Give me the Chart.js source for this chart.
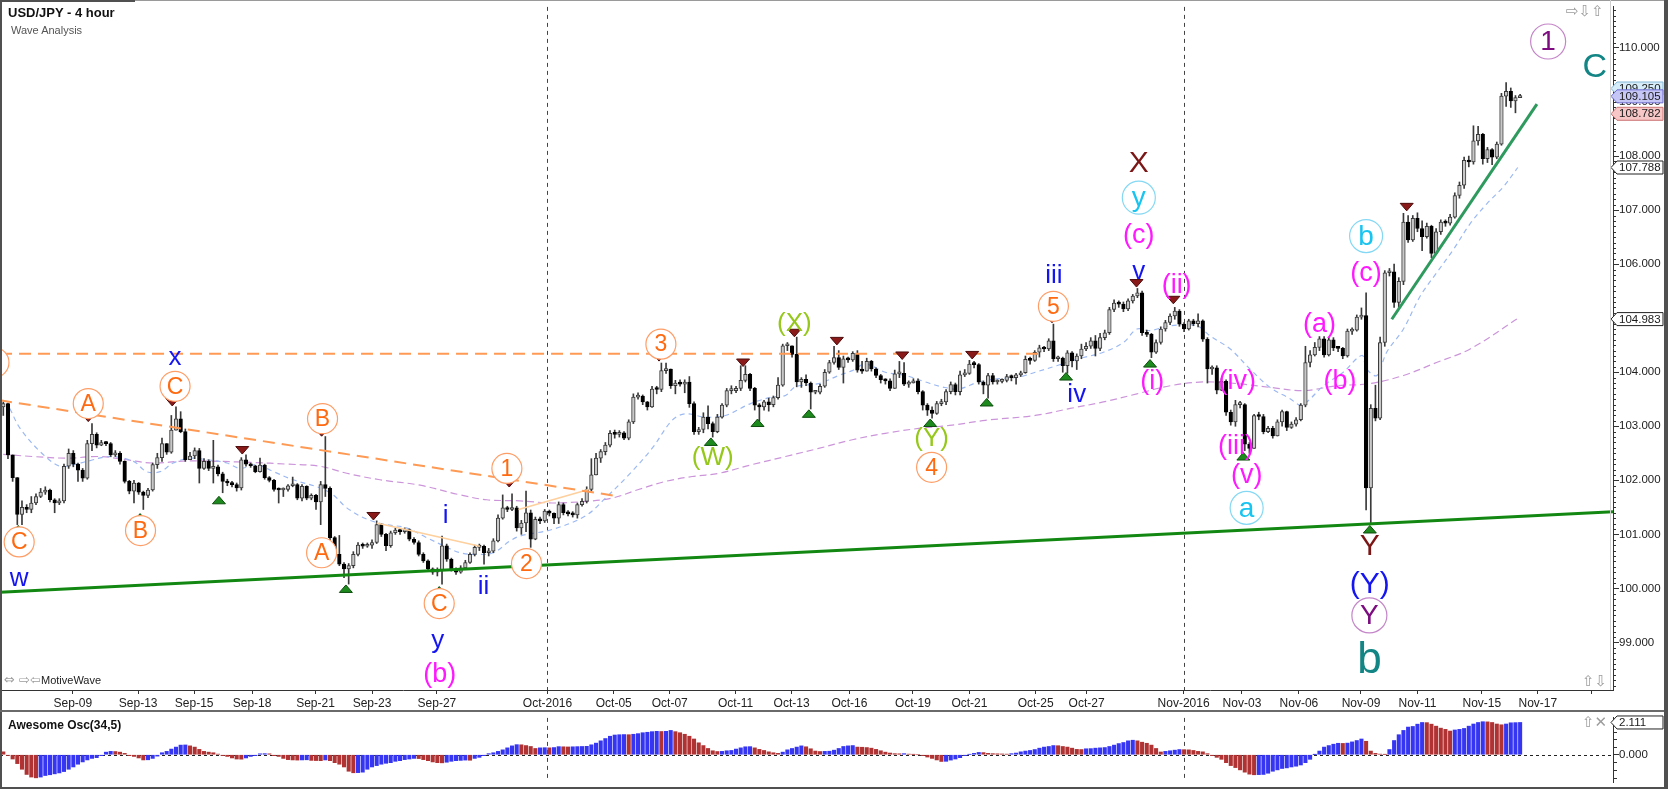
<!DOCTYPE html>
<html lang="en">
  <head>
    <meta charset="utf-8" />
    <title>USD/JPY - 4 hour</title>
    <style>
      * {
        margin: 0;
        padding: 0;
      }
      body {
        width: 1668px;
        height: 789px;
        overflow: hidden;
        background: #fff;
        position: relative;
        font-family: "Liberation Sans", Arial, sans-serif;
      }
      .pricePanel {
        position: absolute;
        left: 0;
        top: 0;
        width: 1668px;
        height: 711px;
      }
      .oscPanel {
        position: absolute;
        left: 0;
        top: 711px;
        width: 1668px;
        height: 78px;
      }
      .frame {
        position: absolute;
        background: #505050;
      }
      .txt {
        position: absolute;
        white-space: nowrap;
        line-height: 14px;
      }
      .icons {
        color: #9c9c9c;
        font-family: "DejaVu Sans", sans-serif;
        font-size: 15px;
        line-height: 16px;
      }
    </style>
  </head>
  <body>
    <div class="pricePanel"><canvas id="priceChart"></canvas></div>
    <div class="oscPanel"><canvas id="oscChart"></canvas></div>

    <div class="frame" style="left:0;top:0;width:1668px;height:1px;background:#9a9a9a"></div>
    <div class="frame" style="left:0;top:0;width:135px;height:2px"></div>
    <div class="frame" style="left:0;top:0;width:2px;height:789px"></div>
    <div class="frame" style="left:1664px;top:0;width:4px;height:789px"></div>
    <div class="frame" style="left:0;top:787px;width:1668px;height:2px"></div>
    <div class="frame" style="left:0;top:710px;width:1664px;height:2px;background:#6a6a6a"></div>
    <div class="frame" style="left:1610px;top:0;width:1px;height:690px;background:#d0d0d0"></div>

    <div class="txt" style="left:8px;top:6px;font-weight:bold;font-size:13px;color:#111">USD/JPY - 4 hour</div>
    <div class="txt" style="left:11px;top:23px;font-size:11px;color:#555">Wave Analysis</div>
    <div class="txt icons" style="left:4px;top:672px;font-size:13px">⇔ ⇨⇦</div>
    <div class="txt" style="left:41px;top:673px;font-size:11px;color:#222">MotiveWave</div>
    <div class="txt" style="left:8px;top:718px;font-weight:bold;font-size:12px;color:#111">Awesome Osc(34,5)</div>
    <div class="txt icons" style="left:1566px;top:3px">⇨⇩⇧</div>
    <div class="txt icons" style="left:1582px;top:673px">⇧⇩</div>
    <div class="txt icons" style="left:1582px;top:714px">⇧✕</div>

    <script src="https://cdn.jsdelivr.net/npm/chart.js"></script>

    <script>
      // x axis: candle index, labels at day boundaries
      const tickIndex = [14.9, 28.9, 40.9, 53.3, 66.9, 79.0, 92.9, 116.6, 130.8, 142.8, 156.9, 168.9, 181.3,
        194.9, 207.0, 221.2, 232.1, 252.9, 265.4, 277.6, 290.9, 303.0, 316.8, 328.8, 340.3];
      const tickLabels = ["Sep-09", "Sep-13", "Sep-15", "Sep-18", "Sep-21", "Sep-23", "Sep-27", "Oct-2016",
        "Oct-05", "Oct-07", "Oct-11", "Oct-13", "Oct-16", "Oct-19", "Oct-21", "Oct-25", "Oct-27", "Nov-2016",
        "Nov-03", "Nov-06", "Nov-09", "Nov-11", "Nov-15", "Nov-17", ""];
      const priceTicks = [99, 100, 101, 102, 103, 104, 105, 106, 107, 108, 109, 110];

      // 4 hour candles, open = previous close
      const firstOpen = 103.36;
      const closes = [
        103.42, 102.47, 102.05, 101.37, 101.50, 101.46, 101.58, 101.70, 101.78, 101.82,
        101.64, 101.58, 101.62, 102.26, 102.50, 102.30, 102.19, 102.04, 102.68, 102.85,
        102.65, 102.70, 102.68, 102.47, 102.50, 102.35, 101.98, 101.80, 101.95, 101.78,
        101.72, 101.82, 102.29, 102.42, 102.68, 102.52, 102.93, 103.14, 102.90, 102.38,
        102.45, 102.55, 102.22, 102.35, 102.22, 102.25, 102.12, 101.98, 101.95, 101.92,
        101.86, 102.38, 102.30, 102.27, 102.16, 102.28, 102.05, 102.00, 101.83, 101.82,
        101.83, 101.90, 101.92, 101.67, 101.89, 101.67, 101.72, 101.60, 101.92, 101.85,
        100.94, 100.63, 100.45, 100.36, 100.42, 100.63, 100.80, 100.78, 100.80, 100.85,
        101.18, 101.00, 100.79, 101.03, 101.08, 101.05, 101.09, 100.91, 100.85, 100.63,
        100.51, 100.36, 100.30, 100.33, 100.79, 100.54, 100.36, 100.30, 100.38, 100.48,
        100.63, 100.76, 100.78, 100.66, 100.69, 100.88, 101.30, 101.49, 101.46, 101.49,
        101.12, 101.21, 101.40, 100.91, 101.28, 101.25, 101.43, 101.39, 101.30, 101.55,
        101.40, 101.38, 101.36, 101.55, 101.61, 101.83, 102.10, 102.41, 102.53, 102.65,
        102.87, 102.85, 102.88, 102.78, 103.08, 103.54, 103.56, 103.45, 103.36, 103.69,
        103.68, 104.03, 104.06, 103.75, 103.80, 103.78, 103.82, 103.42, 102.90, 102.94,
        103.17, 103.05, 102.90, 103.17, 103.39, 103.66, 103.66, 103.70, 103.85, 103.96,
        103.70, 103.39, 103.36, 103.45, 103.40, 103.53, 103.76, 104.49, 104.49, 104.33,
        103.82, 103.87, 103.80, 103.63, 103.63, 103.74, 104.00, 104.18, 104.27, 104.09,
        104.25, 104.23, 104.35, 104.04, 104.02, 104.20, 104.06, 103.94, 103.86, 103.84,
        103.70, 103.97, 103.98, 103.78, 103.80, 103.84, 103.64, 103.39, 103.30, 103.24,
        103.42, 103.45, 103.64, 103.77, 103.64, 103.95, 103.98, 104.15, 104.14, 103.82,
        103.76, 103.94, 103.82, 103.83, 103.85, 103.92, 103.90, 103.95, 103.99, 104.24,
        104.22, 104.37, 104.45, 104.43, 104.58, 104.25, 104.26, 104.12, 104.36, 104.21,
        104.30, 104.43, 104.48, 104.58, 104.44, 104.64, 104.73, 105.16, 105.28, 105.26,
        105.17, 105.32, 105.41, 105.47, 104.73, 104.70, 104.37, 104.55, 104.80, 104.92,
        105.04, 105.13, 104.89, 104.80, 104.95, 104.90, 104.95, 104.61, 104.06, 104.08,
        103.67, 103.83, 103.26, 103.08, 103.40, 103.40, 102.67, 102.59, 103.20, 103.18,
        102.90, 102.96, 102.82, 103.08, 103.27, 102.98, 103.04, 103.12, 103.39, 104.18,
        104.32, 104.46, 104.62, 104.32, 104.60, 104.45, 104.44, 104.30, 104.76, 104.78,
        105.02, 105.05, 101.86, 103.33, 103.15, 104.55, 105.84, 105.86, 105.29, 105.68,
        106.78, 106.45, 106.85, 106.66, 106.51, 106.70, 106.20, 106.60, 106.78, 106.76,
        106.87, 107.27, 107.46, 107.92, 107.89, 108.28, 108.40, 107.95, 108.12, 107.98,
        108.22, 109.11, 109.20, 109.02, 109.08, 109.11,
      ];
      const highs = [
        103.45, 103.43, 102.35, 102.05, 101.62, 101.55, 101.70, 101.75, 101.85, 101.88,
        101.84, 101.66, 101.66, 102.30, 102.58, 102.55, 102.32, 102.22, 102.74, 103.05,
        102.88, 102.74, 102.72, 102.70, 102.55, 102.53, 102.36, 102.00, 102.00, 101.96,
        101.80, 101.85, 102.32, 102.50, 102.78, 102.68, 103.20, 103.36, 103.27, 102.95,
        102.52, 102.60, 102.59, 102.40, 102.38, 102.74, 102.28, 102.15, 102.02, 101.98,
        101.95, 102.42, 102.47, 102.32, 102.28, 102.41, 102.30, 102.07, 102.02, 101.86,
        101.86, 101.92, 102.06, 101.94, 101.92, 101.90, 101.75, 101.74, 101.98, 102.81,
        101.88, 100.96, 100.98, 100.48, 100.46, 100.68, 100.85, 100.84, 100.84, 100.90,
        101.25, 101.20, 101.02, 101.06, 101.12, 101.10, 101.12, 101.10, 100.94, 100.88,
        100.66, 100.53, 100.38, 100.38, 100.97, 100.82, 100.56, 100.38, 100.42, 100.52,
        100.66, 100.80, 100.82, 100.80, 100.74, 100.92, 101.36, 101.73, 101.52, 101.75,
        101.52, 101.26, 101.80, 101.45, 101.32, 101.32, 101.46, 101.45, 101.40, 101.60,
        101.58, 101.44, 101.42, 101.58, 101.66, 101.88, 102.40, 102.50, 102.57, 102.70,
        102.92, 102.93, 102.92, 102.90, 103.12, 103.60, 103.62, 103.58, 103.46, 103.74,
        103.74, 104.17, 104.17, 104.06, 103.85, 103.86, 103.86, 103.92, 103.45, 102.98,
        103.25, 103.38, 103.08, 103.22, 103.42, 103.70, 103.75, 103.74, 104.12, 104.12,
        103.98, 103.72, 103.42, 103.48, 103.52, 103.56, 103.90, 104.52, 104.55, 104.45,
        104.65, 103.90, 103.95, 103.82, 103.66, 103.78, 104.05, 104.22, 104.48, 104.40,
        104.30, 104.28, 104.38, 104.40, 104.20, 104.26, 104.22, 104.08, 103.96, 103.88,
        103.88, 104.04, 104.20, 104.18, 103.84, 103.88, 103.88, 103.66, 103.42, 103.36,
        103.46, 103.50, 103.68, 103.82, 103.80, 104.02, 104.05, 104.22, 104.20, 104.16,
        103.84, 103.98, 103.98, 103.86, 103.88, 103.96, 103.95, 103.98, 104.02, 104.30,
        104.28, 104.40, 104.50, 104.48, 104.62, 104.89, 104.30, 104.28, 104.40, 104.38,
        104.34, 104.52, 104.55, 104.64, 104.68, 104.72, 104.78, 105.20, 105.34, 105.32,
        105.30, 105.36, 105.44, 105.55, 105.50, 104.78, 104.72, 104.60, 104.84, 104.96,
        105.08, 105.20, 105.16, 104.92, 104.98, 104.98, 105.08, 104.97, 104.64, 104.12,
        104.12, 103.88, 103.86, 103.30, 103.48, 103.46, 103.42, 102.70, 103.22, 103.26,
        103.22, 103.00, 103.00, 103.12, 103.30, 103.28, 103.08, 103.16, 103.42, 104.48,
        104.40, 104.55, 104.66, 104.66, 104.65, 104.64, 104.48, 104.46, 104.80, 104.82,
        105.06, 105.19, 105.47, 103.40, 103.76, 104.65, 105.88, 105.92, 106.00, 105.75,
        106.94, 106.90, 106.90, 106.95, 106.80, 106.76, 106.72, 106.66, 106.82, 106.82,
        106.92, 107.32, 107.52, 107.98, 108.00, 108.56, 108.55, 108.42, 108.16, 108.14,
        108.26, 109.16, 109.36, 109.26, 109.12, 109.14,
      ];
      const lows = [
        103.20, 102.40, 101.98, 101.18, 101.18, 101.40, 101.40, 101.55, 101.68, 101.74,
        101.60, 101.40, 101.55, 101.58, 102.22, 102.25, 101.98, 101.98, 102.02, 102.55,
        102.60, 102.64, 102.64, 102.44, 102.44, 102.30, 101.95, 101.75, 101.58, 101.74,
        101.46, 101.68, 101.80, 102.22, 102.35, 102.48, 102.50, 102.95, 102.88, 102.35,
        102.38, 102.40, 101.95, 102.20, 102.18, 101.95, 102.08, 101.77, 101.90, 101.88,
        101.80, 101.82, 102.26, 102.24, 102.14, 102.15, 102.02, 101.97, 101.80, 101.58,
        101.70, 101.80, 101.88, 101.64, 101.62, 101.64, 101.64, 101.46, 101.18, 101.70,
        100.90, 100.60, 100.42, 100.20, 100.08, 100.38, 100.60, 100.74, 100.76, 100.74,
        100.83, 100.96, 100.70, 100.76, 101.00, 101.00, 101.02, 100.88, 100.82, 100.60,
        100.48, 100.33, 100.26, 100.23, 100.08, 100.50, 100.32, 100.26, 100.28, 100.36,
        100.46, 100.60, 100.70, 100.45, 100.60, 100.66, 100.86, 101.28, 101.42, 101.44,
        101.06, 101.00, 101.05, 100.76, 100.90, 101.20, 101.22, 101.34, 101.20, 101.20,
        101.36, 101.34, 101.32, 101.30, 101.52, 101.58, 101.80, 102.10, 102.33, 102.47,
        102.62, 102.78, 102.80, 102.75, 102.75, 103.05, 103.50, 103.40, 103.30, 103.35,
        103.60, 103.64, 103.98, 103.70, 103.60, 103.74, 103.62, 103.35, 102.85, 102.85,
        102.88, 102.95, 102.80, 102.88, 103.15, 103.36, 103.60, 103.62, 103.66, 103.82,
        103.66, 103.30, 103.10, 103.30, 103.28, 103.36, 103.50, 103.74, 104.40, 104.28,
        103.73, 103.72, 103.75, 103.32, 103.60, 103.60, 103.72, 103.98, 104.15, 104.05,
        103.80, 104.18, 104.20, 104.00, 103.98, 104.15, 104.02, 103.90, 103.80, 103.78,
        103.66, 103.85, 103.90, 103.75, 103.72, 103.80, 103.60, 103.30, 103.20, 103.15,
        103.22, 103.38, 103.40, 103.60, 103.58, 103.58, 103.92, 103.96, 104.08, 103.78,
        103.60, 103.52, 103.78, 103.78, 103.80, 103.82, 103.84, 103.78, 103.92, 103.98,
        104.15, 104.20, 104.28, 104.38, 104.40, 104.20, 104.20, 104.00, 103.98, 104.10,
        104.05, 104.25, 104.40, 104.44, 104.30, 104.40, 104.60, 104.70, 105.12, 105.20,
        105.12, 105.14, 105.28, 105.38, 104.68, 104.66, 104.27, 104.35, 104.52, 104.76,
        104.88, 104.98, 104.85, 104.75, 104.78, 104.86, 104.84, 104.57, 103.80, 103.96,
        103.60, 103.66, 103.20, 103.02, 103.00, 103.34, 102.55, 102.50, 102.62, 103.12,
        102.86, 102.88, 102.78, 102.86, 103.00, 102.92, 102.96, 103.00, 103.10, 103.36,
        104.10, 104.30, 104.40, 104.28, 104.30, 104.40, 104.38, 104.25, 104.28, 104.70,
        104.76, 104.98, 101.45, 101.19, 103.10, 103.12, 104.48, 105.78, 105.20, 105.20,
        105.62, 106.40, 106.42, 106.60, 106.25, 106.48, 106.12, 106.18, 106.55, 106.70,
        106.72, 106.85, 107.22, 107.40, 107.80, 107.85, 108.20, 107.85, 107.88, 107.84,
        107.95, 108.20, 108.92, 108.90, 108.80, 109.09,
      ];

      // Awesome Oscillator (34,5), one value per candle
      const aoValues = [
        0.19, -0.05, -0.28, -0.58, -0.95, -1.29, -1.46, -1.51, -1.46, -1.36,
        -1.31, -1.25, -1.19, -1.10, -0.95, -0.80, -0.62, -0.47, -0.34, -0.24,
        -0.19, -0.06, 0.17, 0.22, 0.21, 0.17, 0.09, -0.06, -0.11, -0.21,
        -0.34, -0.33, -0.24, -0.09, 0.13, 0.22, 0.37, 0.50, 0.63, 0.64,
        0.58, 0.50, 0.35, 0.22, 0.17, 0.13, 0.04, -0.06, -0.11, -0.21,
        -0.28, -0.29, -0.21, -0.11, -0.06, 0.06, 0.07, 0.06, -0.06, -0.11,
        -0.24, -0.32, -0.34, -0.35, -0.34, -0.33, -0.37, -0.38, -0.39, -0.34,
        -0.39, -0.52, -0.62, -0.80, -1.08, -1.18, -1.17, -1.14, -0.95, -0.80,
        -0.71, -0.62, -0.56, -0.52, -0.43, -0.39, -0.32, -0.28, -0.24, -0.25,
        -0.32, -0.39, -0.47, -0.52, -0.53, -0.49, -0.43, -0.39, -0.37, -0.35,
        -0.36, -0.24, -0.17, -0.06, 0.07, 0.13, 0.22, 0.32, 0.45, 0.58,
        0.66, 0.65, 0.60, 0.54, 0.41, 0.45, 0.46, 0.45, 0.47, 0.53,
        0.52, 0.51, 0.52, 0.53, 0.54, 0.55, 0.65, 0.76, 0.91, 1.06,
        1.21, 1.29, 1.31, 1.32, 1.31, 1.34, 1.38, 1.44, 1.47, 1.51,
        1.53, 1.52, 1.53, 1.59, 1.51, 1.44, 1.34, 1.21, 1.03, 0.78,
        0.60, 0.41, 0.26, 0.21, 0.22, 0.26, 0.28, 0.37, 0.45, 0.52,
        0.53, 0.45, 0.35, 0.28, 0.19, 0.13, 0.09, 0.17, 0.32, 0.41,
        0.50, 0.58, 0.52, 0.39, 0.24, 0.21, 0.22, 0.23, 0.30, 0.41,
        0.54, 0.58, 0.60, 0.50, 0.49, 0.47, 0.43, 0.35, 0.26, 0.17,
        0.11, 0.07, 0.06, 0.07, 0.04, 0.02, 0.00, -0.06, -0.15, -0.24,
        -0.34, -0.44, -0.43, -0.35, -0.28, -0.19, -0.06, 0.02, 0.09, 0.15,
        0.14, 0.09, 0.07, 0.06, 0.05, 0.04, 0.07, 0.11, 0.19, 0.24,
        0.28, 0.34, 0.43, 0.50, 0.54, 0.60, 0.59, 0.54, 0.50, 0.43,
        0.35, 0.34, 0.39, 0.40, 0.43, 0.45, 0.47, 0.54, 0.63, 0.73,
        0.80, 0.91, 0.95, 0.91, 0.82, 0.75, 0.63, 0.41, 0.18, 0.22,
        0.26, 0.30, 0.34, 0.33, 0.32, 0.28, 0.22, 0.19, 0.07, -0.06,
        -0.17, -0.30, -0.52, -0.71, -0.84, -0.99, -1.14, -1.27, -1.31, -1.30,
        -1.29, -1.21, -1.08, -0.99, -0.90, -0.86, -0.80, -0.75, -0.67, -0.52,
        -0.30, 0.01, 0.24, 0.50, 0.60, 0.69, 0.75, 0.74, 0.76, 0.84,
        0.93, 1.03, 0.88, 0.24, 0.09, 0.04, 0.02, 0.34, 0.93, 1.31,
        1.59, 1.81, 1.85, 2.00, 2.11, 2.10, 2.00, 1.87, 1.74, 1.66,
        1.55, 1.62, 1.66, 1.72, 1.87, 2.01, 2.11, 2.16, 2.15, 2.11,
        2.01, 1.96, 2.01, 2.09, 2.10, 2.111,
      ];

      // moving averages (candle index, price)
      const fastMaG = [1.4, 3.6, 7.9, 12.1, 15, 17.9, 22.9, 27.9, 30.7, 33.6, 36.4, 40, 43.6, 47.9, 50.7, 54.3,
        57.9, 62.1, 67.9, 70.7, 73.6, 77.9, 82.1, 86.4, 90.7, 94.3, 97.9, 101.4, 105, 108.6, 110.7, 117.6, 124.7,
        129, 134, 139, 143.3, 146.1, 150.4, 154.7, 160.1, 164.7, 167.6, 169.7, 174.7, 179, 181.9, 184.7, 189,
        193.3, 197.6, 201.1, 204.7, 209, 213.3, 217.6, 221.1, 225.7, 230, 235.7, 240, 242.9, 245.7, 250, 255.7,
        258.6, 262.9, 267.1, 271.4, 275.7, 277.9, 279.3, 282.9, 287.1, 291.1, 292.1, 294.3, 296.4, 300, 303.6,
        307.1, 310.7, 314.3, 317.9, 321.4, 324.5];
      const fastMaP = [103.33, 102.96, 102.53, 102.26, 102.29, 102.35, 102.44, 102.35, 102.16, 102.16, 102.32,
        102.41, 102.38, 102.32, 102.22, 102.29, 102.16, 102.01, 101.86, 101.73, 101.49, 101.28, 101.18, 101.12,
        100.94, 100.79, 100.66, 100.63, 100.66, 100.88, 100.97, 101.09, 101.34, 101.67, 102.10, 102.59, 103.11,
        103.23, 103.17, 103.20, 103.42, 103.54, 103.57, 103.73, 103.79, 103.94, 104.03, 104.15, 104.00, 103.94,
        103.82, 103.73, 103.69, 103.82, 103.88, 103.91, 104.00, 104.12, 104.24, 104.37, 104.55, 104.80, 104.77,
        104.86, 104.86, 104.67, 104.43, 104.06, 103.72, 103.51, 103.39, 103.45, 103.75, 104.00, 104.31, 104.06,
        103.94, 104.37, 104.80, 105.41, 105.84, 106.27, 106.75, 107.12, 107.43, 107.788];
      const slowMaG = [0, 6.4, 13.6, 20.7, 26.4, 32.1, 39.3, 46.4, 53.6, 60.7, 67.9, 73.6, 80.7, 89.3, 97.9,
        103.6, 110.7, 117.6, 124.7, 130.4, 136.1, 141.9, 147.6, 153.3, 160.4, 167.6, 174.7, 181.9, 189, 196.1,
        203.3, 210.4, 221.1, 228.6, 235.7, 242.9, 250, 257.1, 264.3, 271.4, 278.6, 285.7, 292.9, 300, 307.1,
        314.3, 324.3];
      const slowMaP = [102.48, 102.44, 102.41, 102.44, 102.38, 102.32, 102.36, 102.35, 102.33, 102.30, 102.26,
        102.13, 102.01, 101.91, 101.73, 101.64, 101.62, 101.58, 101.61, 101.67, 101.83, 101.98, 102.07, 102.13,
        102.29, 102.44, 102.59, 102.75, 102.87, 102.96, 103.02, 103.11, 103.20, 103.33, 103.45, 103.60, 103.75,
        103.82, 103.79, 103.72, 103.66, 103.75, 103.79, 103.94, 104.18, 104.43, 104.983];

      // drawn trend lines (candle index, price)
      const supportG = [-0.7, 344.9];
      const supportP = [99.93, 101.42];
      const channelG = [297.5, 328.6];
      const channelP = [104.98, 108.96];
      const levelG = [-0.7, 223];
      const levelP = [104.34, 104.34];
      const fallG = [-0.7, 132.1];
      const fallP = [103.48, 101.7];
      const thinAG = [80, 102.1];
      const thinAP = [101.21, 100.78];
      const thinBG = [110.4, 125.4];
      const thinBP = [101.46, 101.83];

      // swing markers
      const markG = [3.2, 18.2, 29.3, 36.2, 46.2, 51.2, 68.2, 73.4, 79.3, 93.4, 108.4, 112.5, 140.5, 151.6, 158.5,
        161.6, 169.5, 172.6, 178.6, 192.6, 198.6, 207.6, 210.7, 224.7, 227.7, 242.8, 245.7, 250.7, 265.7, 292.8,
        300.7];
      const markP = [101.09, 103.16, 101.31, 103.45, 101.63, 102.56, 102.89, 99.99, 101.34, 99.96, 101.95, 100.63,
        104.28, 102.71, 104.18, 103.06, 104.73, 103.23, 104.58, 104.31, 103.06, 104.32, 103.44, 104.99, 103.92,
        105.65, 104.16, 105.34, 102.44, 101.09, 107.06];
      const markUp = [1, 0, 1, 0, 1, 0, 0, 1, 0, 1, 0, 1, 0, 1, 0, 1, 0, 1, 0, 0, 1, 0, 1, 0, 1, 0, 1, 0, 1, 1, 0];

      // wave labels
      const waveText = ["C", "w", "A", "x", "C", "B", "B", "A", "1", "i", "ii", "C", "y", "(b)", "2", "", "3",
        "(X)", "(W)", "(Y)", "4", "5", "iii", "iv", "X", "y", "(c)", "v", "(ii)", "(i)", "(iv)", "(iii)", "(v)",
        "a", "(a)", "(b)", "b", "(c)", "Y", "(Y)", "Y", "b", "1", "C"];
      const waveG = [3.4, 3.4, 18.2, 36.8, 36.8, 29.4, 68.4, 68.2, 107.9, 94.8, 102.9, 93.4, 93.1, 93.5, 112.1,
        -2, 140.9, 169.5, 152, 198.9, 198.9, 225, 225.1, 230, 243.3, 243.3, 243.3, 243.3, 251.4, 246.2, 264.4,
        264.1, 266.4, 266.4, 282, 286.4, 292, 292, 292.8, 292.8, 292.7, 292.7, 331, 341];
      const waveP = [100.86, 100.2, 103.42, 104.28, 103.74, 101.07, 103.14, 100.66, 102.22, 101.37, 100.05,
        99.72, 99.05, 98.43, 100.46, 104.18, 104.52, 104.92, 102.44, 102.78, 102.24, 105.22, 105.81, 103.6, 107.87,
        107.23, 106.55, 105.87, 105.62, 103.85, 103.85, 102.65, 102.1, 101.49, 104.91, 103.85, 106.52, 105.84,
        100.79, 100.09, 99.5, 98.67, 110.12, 109.66];
      const waveKind = ["orange", "blue", "orange", "blue", "orange", "orange", "orange", "orange", "orange",
        "blue", "blue", "orange", "blue", "magenta", "orange", "orange", "orange", "lime", "lime", "lime",
        "orange", "orange", "blue", "blue", "darkred", "cyan", "magenta", "blue", "magenta", "magenta", "magenta",
        "magenta", "magenta", "cyan", "magenta", "magenta", "cyan", "magenta", "darkred", "navy", "purple",
        "teal", "purple", "tealC"];

      // value tags on the price axis
      const tagValues = [109.25, 108.782, 109.105, 107.788, 104.983];
      const tagFill = ["#d6ecf8", "#f7c6c6", "#c6c6f6", "#ffffff", "#ffffff"];
      const tagEdge = ["#86b8d6", "#cc7474", "#6c6cd0", "#222222", "#222222"];

      const xMin = -0.71;
      const xMax = 344.9;
      const fontFamily = '"Liberation Sans", Arial, sans-serif';

      const labelStyles = {
        orange: { color: "#ff6a10", size: 23, ring: "#ff9d66", r: 15 },
        blue: { color: "#1515f2", size: 26 },
        magenta: { color: "#ff19ff", size: 27 },
        cyan: { color: "#18c4f0", size: 28, ring: "#84d8f4", r: 16.5 },
        lime: { color: "#95c81a", size: 26 },
        darkred: { color: "#7b1616", size: 30 },
        navy: { color: "#1515f2", size: 30 },
        purple: { color: "#7c0c80", size: 28, ring: "#c486c8", r: 17.5 },
        teal: { color: "#138585", size: 44 },
        tealC: { color: "#138585", size: 34 },
      };

      Chart.defaults.font.family = fontFamily;
      Chart.defaults.animation = false;

      const opens = closes.map((c, i) => (i === 0 ? firstOpen : closes[i - 1]));
      const pts = (gs, ps) => gs.map((g, i) => ({ x: g, y: ps[i] }));
      const monthIndex = tickIndex.filter((v, i) => tickLabels[i].endsWith("2016"));

      function trend(gs, ps, color, width, dash) {
        return {
          type: "line",
          data: pts(gs, ps),
          borderColor: color,
          borderWidth: width,
          borderDash: dash || [],
          pointRadius: 0,
          order: 0,
        };
      }

      function drawMonthLines(chart) {
        const { ctx, chartArea, scales: { x } } = chart;
        ctx.save();
        ctx.strokeStyle = "#444";
        ctx.lineWidth = 1;
        ctx.setLineDash([4, 4]);
        monthIndex.forEach((g) => {
          const px = Math.round(x.getPixelForValue(g)) + 0.5;
          ctx.beginPath();
          ctx.moveTo(px, chartArea.top);
          ctx.lineTo(px, chartArea.bottom);
          ctx.stroke();
        });
        ctx.restore();
      }

      function drawTag(ctx, right, py, text, fill, edge) {
        ctx.beginPath();
        ctx.moveTo(right - 2, py);
        ctx.lineTo(right + 4, py - 6.5);
        ctx.lineTo(right + 50, py - 6.5);
        ctx.lineTo(right + 50, py + 6.5);
        ctx.lineTo(right + 4, py + 6.5);
        ctx.closePath();
        ctx.fillStyle = fill;
        ctx.fill();
        ctx.strokeStyle = edge;
        ctx.lineWidth = 1;
        ctx.stroke();
        ctx.fillStyle = "#1a1a1a";
        ctx.font = "11.5px " + fontFamily;
        ctx.textAlign = "left";
        ctx.textBaseline = "middle";
        ctx.fillText(text, right + 6, py + 0.5);
      }

      // price panel plugin block
      const waveMarks = {
        id: "waveMarks",
        beforeDatasetsDraw(chart) {
          drawMonthLines(chart);
        },
        afterDatasetsDraw(chart) {
          const { ctx, scales: { x, y } } = chart;
          ctx.save();
          markG.forEach((g, i) => {
            const px = x.getPixelForValue(g);
            const py = y.getPixelForValue(markP[i]);
            ctx.beginPath();
            if (markUp[i]) {
              ctx.moveTo(px, py - 4);
              ctx.lineTo(px + 6.5, py + 3.5);
              ctx.lineTo(px - 6.5, py + 3.5);
              ctx.fillStyle = "#1d8a1d";
              ctx.strokeStyle = "#0d4d0d";
            } else {
              ctx.moveTo(px - 6.5, py - 3.5);
              ctx.lineTo(px + 6.5, py - 3.5);
              ctx.lineTo(px, py + 4);
              ctx.fillStyle = "#8a1a1a";
              ctx.strokeStyle = "#4d0a0a";
            }
            ctx.closePath();
            ctx.fill();
            ctx.lineWidth = 1;
            ctx.stroke();
          });

          ctx.textAlign = "center";
          ctx.textBaseline = "middle";
          waveText.forEach((t, i) => {
            const st = labelStyles[waveKind[i]];
            const px = x.getPixelForValue(waveG[i]);
            const py = y.getPixelForValue(waveP[i]);
            if (st.ring) {
              ctx.beginPath();
              ctx.arc(px, py, st.r, 0, Math.PI * 2);
              ctx.fillStyle = "#fff";
              ctx.fill();
              ctx.strokeStyle = st.ring;
              ctx.lineWidth = 1.2;
              ctx.stroke();
            }
            ctx.fillStyle = st.color;
            ctx.font = st.size + "px " + fontFamily;
            ctx.fillText(t, px, py + 1);
          });
          ctx.restore();
        },
        afterDraw(chart) {
          const { ctx, chartArea: { right }, scales: { y } } = chart;
          ctx.save();
          ctx.strokeStyle = "#333";
          ctx.lineWidth = 1;
          ctx.beginPath();
          for (let t = Math.ceil(y.min * 10); t <= Math.floor(y.max * 10); t++) {
            if (t % 10 === 0) continue;
            const py = Math.round(y.getPixelForValue(t / 10)) + 0.5;
            ctx.moveTo(right, py);
            ctx.lineTo(right + 3, py);
          }
          ctx.stroke();
          tagValues.forEach((v, i) => {
            drawTag(ctx, right, y.getPixelForValue(v), v.toFixed(3), tagFill[i], tagEdge[i]);
          });
          ctx.restore();
        },
      };

      const bodyData = closes.map((c, i) => ({ x: i, y: [opens[i], c] }));
      const wickData = closes.map((c, i) => ({
        x: i,
        y: [Math.min(lows[i], opens[i], c), Math.max(highs[i], opens[i], c)],
      }));

      new Chart(document.getElementById("priceChart"), {
        type: "bar",
        data: {
          datasets: [
            trend(supportG, supportP, "#128812", 3),
            trend(channelG, channelP, "#2e9a5e", 3),
            trend(levelG, levelP, "#ff9a55", 2, [12, 7]),
            trend(fallG, fallP, "#ff9a55", 2, [12, 7]),
            trend(thinAG, thinAP, "#ffcf9c", 1.5),
            trend(thinBG, thinBP, "#ffcf9c", 1.5),
            {
              data: bodyData,
              backgroundColor: closes.map((c, i) => (c >= opens[i] ? "#c8c8c8" : "#000000")),
              borderColor: closes.map((c, i) => (c >= opens[i] ? "#3a3a3a" : "#000000")),
              borderWidth: 1,
              borderSkipped: false,
              barThickness: 3.6,
              maxBarThickness: 3.6,
              minBarLength: 2,
              grouped: false,
              order: 1,
            },
            {
              data: wickData,
              backgroundColor: "#3a3a3a",
              barThickness: 1,
              maxBarThickness: 1,
              grouped: false,
              order: 2,
            },
            {
              type: "line",
              data: pts(fastMaG, fastMaP),
              borderColor: "#9cb9f2",
              borderWidth: 1.2,
              borderDash: [5, 4],
              pointRadius: 0,
              tension: 0.35,
              order: 3,
            },
            {
              type: "line",
              data: pts(slowMaG, slowMaP),
              borderColor: "#cc95da",
              borderWidth: 1.2,
              borderDash: [7, 4],
              pointRadius: 0,
              tension: 0.35,
              order: 3,
            },
          ],
        },
        options: {
          responsive: true,
          maintainAspectRatio: false,
          events: [],
          layout: { padding: { top: 2, left: 0, right: 0, bottom: 0 } },
          plugins: { legend: { display: false }, tooltip: { enabled: false } },
          scales: {
            x: {
              type: "linear",
              min: xMin,
              max: xMax,
              offset: false,
              grid: { display: true, drawOnChartArea: false, tickLength: 4, color: "#333", offset: false },
              border: { display: true, color: "#333" },
              afterBuildTicks: (s) => {
                s.ticks = tickIndex.map((v) => ({ value: v }));
              },
              afterFit: (s) => {
                s.height = 21;
              },
              ticks: {
                autoSkip: false,
                maxRotation: 0,
                padding: 2,
                color: "#222",
                font: { size: 12 },
                callback: (v, i) => tickLabels[i],
              },
            },
            y: {
              type: "linear",
              position: "right",
              min: 98.12,
              max: 110.76,
              grid: { display: true, drawOnChartArea: false, tickLength: 6, color: "#333" },
              border: { display: true, color: "#333" },
              afterBuildTicks: (s) => {
                s.ticks = priceTicks.map((v) => ({ value: v }));
              },
              afterFit: (s) => {
                s.width = 55;
              },
              ticks: {
                padding: 0,
                color: "#222",
                font: { size: 11.5 },
                callback: (v) => Number(v).toFixed(3),
              },
            },
          },
        },
        plugins: [waveMarks],
      });

      // oscillator panel plugin block
      const oscDecor = {
        id: "oscDecor",
        beforeDatasetsDraw(chart) {
          const { ctx, chartArea: { left, right }, scales: { y } } = chart;
          drawMonthLines(chart);
          ctx.save();
          ctx.strokeStyle = "#222";
          ctx.lineWidth = 1;
          ctx.setLineDash([3, 3]);
          const py = Math.round(y.getPixelForValue(0)) + 0.5;
          ctx.beginPath();
          ctx.moveTo(left, py);
          ctx.lineTo(right, py);
          ctx.stroke();
          ctx.restore();
        },
        afterDraw(chart) {
          const { ctx, chartArea: { right }, scales: { y } } = chart;
          ctx.save();
          ctx.strokeStyle = "#333";
          ctx.lineWidth = 1;
          ctx.beginPath();
          for (let t = Math.ceil(y.min * 2); t <= Math.floor(y.max * 2); t++) {
            if (t === 0) continue;
            const py = Math.round(y.getPixelForValue(t / 2)) + 0.5;
            ctx.moveTo(right, py);
            ctx.lineTo(right + 4, py);
          }
          ctx.stroke();
          const last = aoValues[aoValues.length - 1];
          drawTag(ctx, right, y.getPixelForValue(last), last.toFixed(3), "#ffffff", "#222222");
          ctx.restore();
        },
      };

      new Chart(document.getElementById("oscChart"), {
        type: "bar",
        data: {
          datasets: [
            {
              data: aoValues.map((v, i) => ({ x: i, y: v })),
              backgroundColor: aoValues.map((v, i) => (i === 0 || v < aoValues[i - 1] ? "#b03232" : "#3535f2")),
              barThickness: 3.4,
              maxBarThickness: 3.4,
              grouped: false,
            },
          ],
        },
        options: {
          responsive: true,
          maintainAspectRatio: false,
          events: [],
          layout: { padding: { top: 1, left: 0, right: 0, bottom: 2 } },
          plugins: { legend: { display: false }, tooltip: { enabled: false } },
          scales: {
            x: { type: "linear", min: xMin, max: xMax, offset: false, display: false },
            y: {
              type: "linear",
              position: "right",
              min: -1.79,
              max: 2.41,
              grid: { display: true, drawOnChartArea: false, tickLength: 6, color: "#333" },
              border: { display: true, color: "#333" },
              afterBuildTicks: (s) => {
                s.ticks = [{ value: 0 }];
              },
              afterFit: (s) => {
                s.width = 55;
              },
              ticks: {
                padding: 0,
                color: "#222",
                font: { size: 11.5 },
                callback: (v) => Number(v).toFixed(3),
              },
            },
          },
        },
        plugins: [oscDecor],
      });
    </script>
  </body>
</html>
